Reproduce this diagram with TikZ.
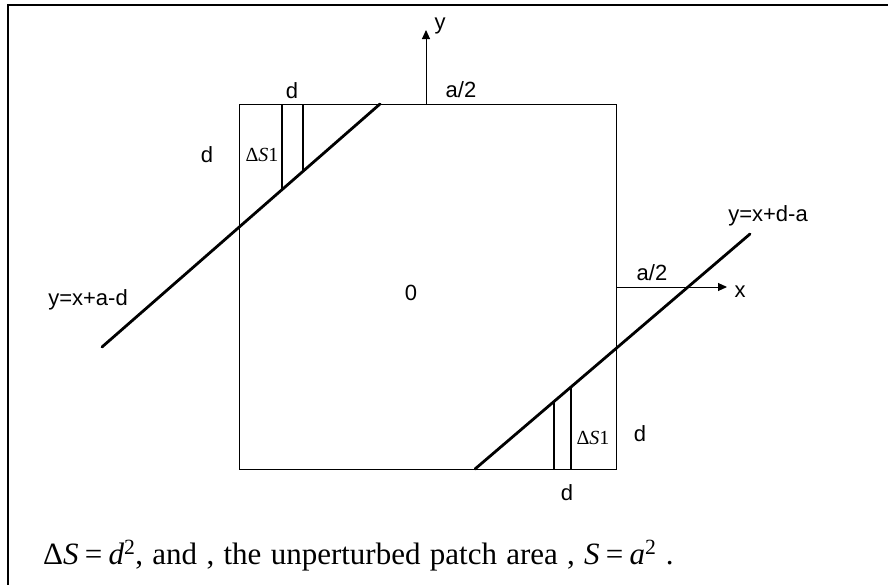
\documentclass[tikz,border=0pt]{standalone}
\usepackage{fontspec}
\setmainfont{Liberation Serif}
\setsansfont{Liberation Sans}
\usetikzlibrary{arrows.meta,calc}
\tikzset{
    moldura/.style={line width=2pt},
    borda/.style={line width=1pt},
    reta/.style={line width=2.8pt, line cap=round},
    faixa/.style={line width=2.2pt},
    eixo/.style={line width=1pt, -{Triangle[length=9pt,width=8pt]}},
    rotulo/.style={font=\sffamily\fontsize{22}{24}\selectfont, inner sep=0pt},
    area/.style={font=\fontsize{20}{22}\selectfont, inner sep=0pt},
    legenda/.style={font=\fontsize{31}{33}\selectfont, inner sep=0pt, anchor=base west}
}
\newcommand{\igual}{\kern0.2em=\kern0.2em}

\begin{document}
\begin{tikzpicture}[x=1pt, y=-1pt]
    \useasboundingbox (0,0) rectangle (888,584);
    \clip (0,0) rectangle (888,584);

    % moldura externa
    \coordinate (mBase) at (8,600);
    \coordinate (mCanto) at (8,5);
    \coordinate (mFim) at (900,5);
    \draw[moldura] (mBase) -- (mCanto) -- (mFim);

    % quadrado
    \coordinate (sw) at (239,469);
    \coordinate (ne) at (616,104);
    \draw[borda] (sw) rectangle (ne);

    % eixos
    \coordinate (origemY) at (426,104);
    \coordinate (pontaY) at (426,30);
    \coordinate (origemX) at (616,287);
    \coordinate (pontaX) at (727,287);
    \draw[eixo] (origemY) -- (pontaY);
    \draw[eixo] (origemX) -- (pontaX);

    % reta superior esquerda
    \coordinate (r1a) at (102,347);
    \coordinate (r1b) at (380,104);
    \draw[reta] (r1a) -- (r1b);
    \coordinate (f1a) at (282,104);
    \coordinate (f1b) at (282,189.7);
    \coordinate (f2a) at (303,104);
    \coordinate (f2b) at (303,171.3);
    \draw[faixa] (f1a) -- (f1b);
    \draw[faixa] (f2a) -- (f2b);

    % reta inferior direita
    \coordinate (r2a) at (475,469);
    \coordinate (r2b) at (750,234);
    \draw[reta] (r2a) -- (r2b);
    \coordinate (f3a) at (554,469);
    \coordinate (f3b) at (554,401.5);
    \coordinate (f4a) at (571,469);
    \coordinate (f4b) at (571,387);
    \draw[faixa] (f3a) -- (f3b);
    \draw[faixa] (f4a) -- (f4b);

    % rotulos
    \node[rotulo] (rotY) at (440,26) {y};
    \node[rotulo] (rotX) at (740,292) {x};
    \node[rotulo] (meioTopo) at (461,90) {a/2};
    \node[rotulo] (meioDir) at (652,273) {a/2};
    \node[rotulo] (zero) at (411,293) {0};
    \node[rotulo] (retaEsq) at (88,300) {y=x+a-d};
    \node[rotulo] (retaDir) at (768,216) {y=x+d-a};
    \node[rotulo] (dTopo) at (292,91) {d};
    \node[rotulo] (dEsq) at (207,155) {d};
    \node[rotulo] (dDir) at (640,434) {d};
    \node[rotulo] (dBaixo) at (567,493) {d};
    \node[area] (ds1) at (262,155) {Δ\textit{S}1};
    \node[area] (ds2) at (593,438) {Δ\textit{S}1};

    % legenda
    \node[legenda] (texto) at (43,564)
        {\spaceskip=0.3em plus 0.1em Δ\textit{S}\igual\textit{d}\textsuperscript{2}, and , the unperturbed patch area ,
        \textit{S}\igual\textit{a}\textsuperscript{2} .};
\end{tikzpicture}
\end{document}
